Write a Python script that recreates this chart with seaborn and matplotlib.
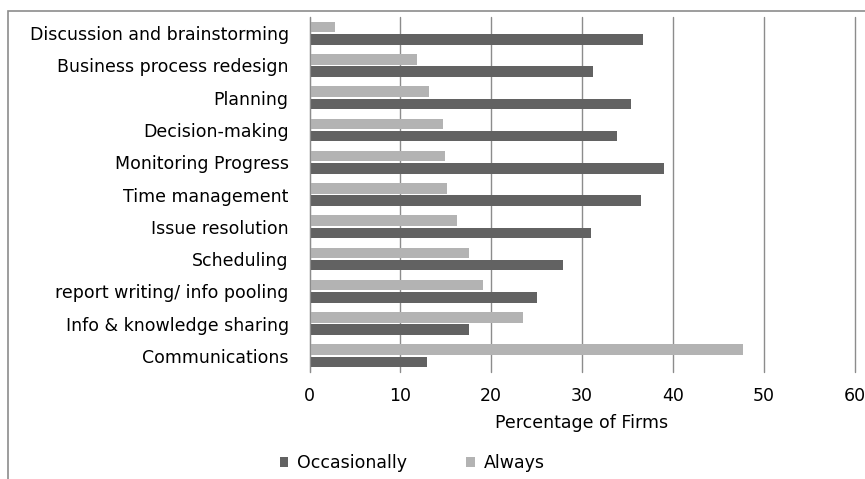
import numpy as np
import pandas as pd
import seaborn as sns
import matplotlib.pyplot as plt
from matplotlib.patches import Rectangle, Patch

# Purposes of use, top to bottom as in the chart
categories = [
    "Discussion and brainstorming",
    "Business process redesign",
    "Planning",
    "Decision-making",
    "Monitoring Progress",
    "Time management",
    "Issue resolution",
    "Scheduling",
    "report writing/ info pooling",
    "Info & knowledge sharing",
    "Communications",
]
always = [2.8, 11.8, 13.2, 14.7, 14.9, 15.1, 16.2, 17.6, 19.1, 23.5, 47.7]
occasionally = [36.7, 31.2, 35.4, 33.9, 39.0, 36.5, 31.0, 27.9, 25.1, 17.6, 12.9]
series_names = ["Always", "Occasionally"]
legend_order = ["Occasionally", "Always"]
xticks = [0, 10, 20, 30, 40, 50, 60]

colors = {"Always": "#b3b3b3", "Occasionally": "#626262"}
FS = 12.5

df = pd.DataFrame({
    "purpose": categories * 2,
    "pct": always + occasionally,
    "freq": ["Always"] * len(categories) + ["Occasionally"] * len(categories),
})

sns.set_style("white")
plt.rcParams["font.family"] = ["DejaVu Sans"]
plt.rcParams["text.color"] = "black"
plt.rcParams["axes.labelcolor"] = "black"

fig = plt.figure(figsize=(8.65, 4.79), dpi=100)
ax = fig.add_axes([309.5 / 865, 1 - 372 / 479, (854.5 - 309.5) / 865, (372 - 17) / 479])

sns.barplot(
    data=df, x="pct", y="purpose", hue="freq", order=categories,
    hue_order=series_names, palette=colors, orient="h",
    width=0.76, gap=0.14, saturation=1, legend=False, linewidth=0, ax=ax,
)

ax.set_xlim(0, 60)
ax.set_xticks(xticks)
ax.set_xticklabels([str(t) for t in xticks])
ax.xaxis.grid(True, color="#8c8c8c", linewidth=1)
for gl in ax.get_xgridlines():
    gl.set_clip_on(False)
ax.set_axisbelow(True)
for side in ["top", "right", "bottom"]:
    ax.spines[side].set_visible(False)
ax.spines["left"].set_color("#8c8c8c")
ax.tick_params(axis="x", length=0, pad=11, labelsize=FS, colors="black")
ax.tick_params(axis="y", length=0, pad=15, labelsize=FS, colors="black")
ax.set_ylabel("")
ax.set_xlabel("Percentage of Firms", fontsize=FS, labelpad=6, color="black")

# outer chart border (cut off on the right and bottom like the reference)
fig.patches.append(Rectangle((8 / 865, -0.05), 1.1, 1 - 10.5 / 479 + 0.05,
                             transform=fig.transFigure, fill=False,
                             edgecolor="#8c8c8c", linewidth=1.2))

handles = [Patch(facecolor=colors[n], edgecolor="none") for n in legend_order]
fig.legend(handles, legend_order, loc="center", bbox_to_anchor=(412 / 865, 1 - 463 / 479),
           ncol=2, frameon=False, fontsize=FS, handlelength=0.5, handleheight=0.5,
           handletextpad=0.5, columnspacing=3.4, labelcolor="black")

fig.savefig("out.png", dpi=100)
